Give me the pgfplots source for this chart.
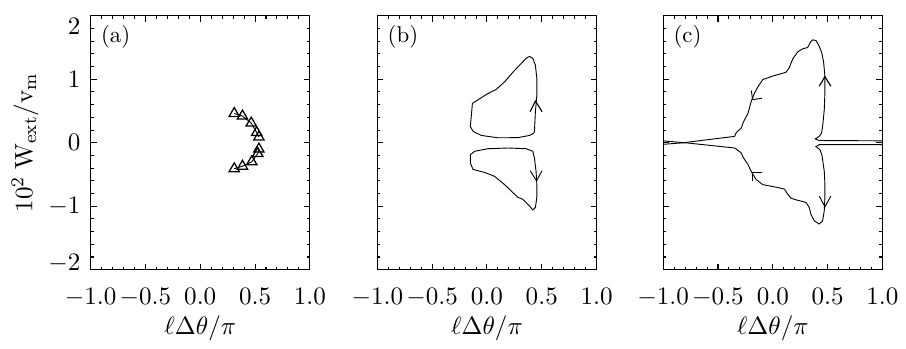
\documentclass[border=0pt]{standalone}
\usepackage{pgfplots}
\pgfplotsset{compat=1.18}
\usetikzlibrary{calc}
\begin{document}
\begin{tikzpicture}
\pgfplotsset{
  panel/.style={
    width=95.7pt, height=110.9pt, scale only axis,
    xmin=-1, xmax=1, ymin=-2, ymax=2,
    xtick={-1,-0.5,0,0.5,1},
    xticklabels={$-1.0$,$-0.5$,$0.0$,$0.5$,$1.0$},
    ytick={-2,-1,0,1,2},
    minor x tick num=4, minor y tick num=4,
    tick align=inside, major tick length=2.6pt, minor tick length=1.3pt,
    axis line style={line width=0.5pt},
    every tick/.style={black, line width=0.45pt},
    tick label style={font=\fontsize{11}{13}\selectfont},
    label style={font=\fontsize{11}{13}\selectfont},
    xlabel={$\ell\Delta\theta/\pi$},
    xlabel style={yshift=3pt},
    xticklabel style={yshift=-4.6pt},
    yticklabel style={xshift=-1pt},
    cycle list={{black, no markers, line width=0.5pt}},
  },
}
% ---------------- (a)
\begin{axis}[panel, name=A, at={(0,0)}, anchor=south west,
  yticklabels={\raisebox{2.6pt}[7.1pt][0.9pt]{$-2$},$-1$,$0$,$1$,\raisebox{-4.5pt}[7.1pt][0pt]{$2$}},
  ylabel={$10^{2}\;\mathrm{W}_{\mathrm{ext}}/\mathrm{v}_{\mathrm{m}}$},
  ylabel style={yshift=-2.7pt}]
\addplot[black, mark=triangle, mark size=2.6pt, line width=0.4pt, mark options={line width=0.55pt}] coordinates {
 (0.31,0.46) (0.385,0.42) (0.465,0.31) (0.515,0.16) (0.535,0.09)};
\addplot[black, mark=triangle, mark size=2.6pt, line width=0.4pt, mark options={line width=0.55pt}] coordinates {
 (0.535,-0.10) (0.525,-0.17) (0.47,-0.30) (0.385,-0.37) (0.31,-0.41)};
\node[anchor=north west, inner sep=0pt] at (rel axis cs:0.045,0.965) {(a)};
\end{axis}
% ---------------- (b)
\begin{axis}[panel, name=B, at={(125.2pt,0)}, anchor=south west, yticklabels={}]
\addplot coordinates {
 (0.433,0.177) (0.442,0.49) (0.455,0.75) (0.455,1.01) (0.442,1.22) (0.418,1.33)
 (0.388,1.36) (0.358,1.33) (0.252,1.14) (0.161,0.96) (0.085,0.84) (-0.006,0.76)
 (-0.133,0.62) (-0.142,0.44) (-0.152,0.255) (-0.127,0.18) (-0.052,0.115)
 (0.1,0.078) (0.282,0.08) (0.388,0.115) (0.427,0.15) (0.433,0.177)};
\addplot coordinates {
 (-0.152,-0.1875) (-0.112,-0.135) (0.009,-0.094) (0.191,-0.083) (0.358,-0.094)
 (0.418,-0.135) (0.433,-0.24) (0.448,-0.45) (0.455,-0.66) (0.455,-0.86)
 (0.442,-1.02) (0.418,-1.06) (0.388,-0.995) (0.327,-0.89) (0.282,-0.86)
 (0.161,-0.66) (0.07,-0.53) (-0.018,-0.47) (-0.127,-0.42) (-0.152,-0.32)
 (-0.152,-0.1875)};
\addplot coordinates {(0.394,0.49) (0.442,0.656) (0.503,0.49)};
\addplot coordinates {(0.394,-0.44) (0.452,-0.60) (0.503,-0.44)};
\node[anchor=north west, inner sep=0pt] at (rel axis cs:0.045,0.965) {(b)};
\end{axis}
% ---------------- (c)
\begin{axis}[panel, name=C, at={(250pt,0)}, anchor=south west, yticklabels={}]
\addplot coordinates {
 (-1,-0.025) (-0.81,0.0) (-0.773,0.01) (-0.348,0.10) (-0.333,0.16) (-0.288,0.23)
 (-0.267,0.33) (-0.227,0.46) (-0.197,0.65) (-0.167,0.78) (-0.136,0.88)
 (-0.091,0.995) (0.0,1.05) (0.121,1.11) (0.152,1.19) (0.182,1.32) (0.227,1.43)
 (0.273,1.48) (0.318,1.50) (0.342,1.58) (0.364,1.62) (0.394,1.61) (0.424,1.52)
 (0.448,1.41) (0.464,1.27) (0.476,1.04) (0.476,0.80) (0.470,0.52) (0.455,0.255)
 (0.445,0.15) (0.424,0.10) (0.388,0.06) (0.424,0.035) (1,0.03)};
\addplot coordinates {
 (-1,0.03) (-0.81,0.0) (-0.773,-0.005) (-0.348,-0.083) (-0.288,-0.16)
 (-0.267,-0.24) (-0.227,-0.34) (-0.197,-0.45) (-0.152,-0.58) (-0.091,-0.66)
 (0.03,-0.70) (0.106,-0.73) (0.136,-0.81) (0.167,-0.875) (0.227,-0.906)
 (0.303,-0.94) (0.333,-1.02) (0.348,-1.125) (0.379,-1.23) (0.424,-1.28)
 (0.455,-1.23) (0.470,-1.07) (0.476,-0.86) (0.476,-0.66) (0.470,-0.45)
 (0.455,-0.27) (0.448,-0.19) (0.430,-0.11) (0.394,-0.06) (0.424,-0.03) (1,-0.03)};
\addplot coordinates {(0.424,0.89) (0.476,1.04) (0.530,0.89)};
\addplot coordinates {(0.424,-0.84) (0.476,-1.01) (0.530,-0.84)};
\addplot coordinates {(-0.195,0.82) (-0.185,0.68) (-0.10,0.70)};
\addplot coordinates {(-0.188,-0.61) (-0.188,-0.47) (-0.10,-0.47)};
\node[anchor=north west, inner sep=0pt] at (rel axis cs:0.045,0.965) {(c)};
\end{axis}
\path ($(A.south west)+(-39.6pt,-28.7pt)$) rectangle ($(C.north east)+(8.3pt,4.8pt)$);
\end{tikzpicture}
\end{document}
